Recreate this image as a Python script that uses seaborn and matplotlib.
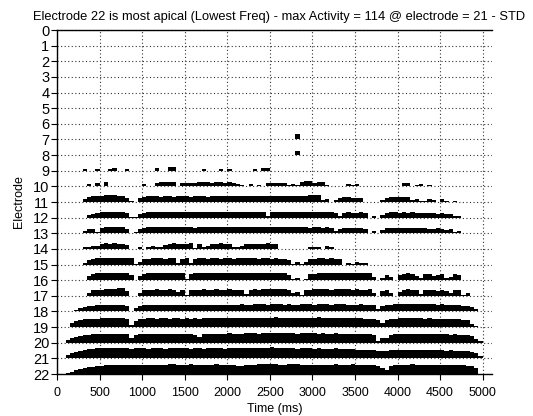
import numpy as np
import pandas as pd
import matplotlib
matplotlib.use("Agg")
import matplotlib.pyplot as plt
import seaborn as sns

# Activity per electrode in 50 ms bins, 0-5000 ms
BIN_MS = 50
N_BINS = 100

# Sparse electrodes: {bin start time (ms): activity}
e7 = {2800: 55}
e8 = {2800: 45}
e9 = {300: 15, 450: 20, 600: 20, 650: 25, 800: 15, 1150: 25, 1300: 40, 1350: 35,
      1700: 15, 1900: 15, 2000: 15, 2300: 15, 2400: 25, 2450: 30}
e10 = {350: 20, 450: 30, 550: 40, 1000: 20, 1150: 30, 1200: 45, 1250: 40, 1300: 45,
       1350: 40, 1450: 30, 1500: 35, 1550: 30, 1600: 35, 1650: 40, 1700: 45, 1750: 40,
       1800: 35, 1850: 45, 1900: 40, 1950: 30, 2000: 45, 2050: 35, 2100: 25, 2150: 15,
       2250: 20, 2350: 15, 2450: 35, 2500: 30, 2550: 35, 2600: 30, 2650: 35, 2700: 15,
       2750: 20, 2800: 15, 2850: 45, 2900: 55, 2950: 50, 3000: 30, 3050: 45, 3100: 45,
       3150: 15, 3400: 20, 3450: 15, 3500: 20, 4050: 30, 4100: 30, 4200: 15, 4250: 20,
       4350: 15}

# Dense electrodes: one value per 50 ms bin
e11 = [0, 0, 0, 0, 0, 0, 35, 55, 60, 62,
       62, 70, 75, 72, 65, 62, 40, 15, 0, 40,
       55, 58, 60, 58, 55, 60, 58, 55, 58, 60,
       58, 55, 60, 62, 58, 55, 60, 58, 62, 60,
       58, 60, 62, 58, 60, 62, 60, 58, 62, 60,
       62, 60, 58, 60, 62, 65, 60, 62, 58, 70,
       72, 70, 25, 30, 5, 25, 45, 50, 48, 45,
       45, 40, 0, 0, 0, 0, 20, 45, 50, 48,
       50, 52, 48, 20, 35, 10, 15, 30, 20, 0,
       30, 10, 0, 15, 0, 0, 0, 0, 0, 0]
e12 = [0, 0, 0, 0, 0, 0, 0, 25, 40, 45,
       55, 60, 58, 62, 60, 55, 45, 10, 5, 35,
       50, 55, 58, 55, 60, 58, 55, 60, 58, 55,
       58, 60, 55, 58, 60, 62, 58, 55, 60, 58,
       55, 58, 60, 62, 58, 55, 60, 58, 55, 20,
       55, 58, 60, 62, 60, 58, 55, 60, 62, 60,
       58, 60, 55, 58, 55, 50, 20, 50, 55, 52,
       50, 55, 45, 0, 20, 0, 30, 50, 55, 55,
       52, 55, 50, 55, 52, 50, 48, 52, 45, 40,
       45, 40, 38, 15, 20, 0, 0, 0, 0, 0]
e13 = [0, 0, 0, 0, 0, 0, 25, 45, 45, 15,
       55, 60, 62, 65, 60, 62, 40, 0, 15, 45,
       55, 60, 62, 65, 62, 60, 62, 65, 62, 60,
       62, 60, 58, 62, 65, 62, 60, 62, 65, 62,
       60, 62, 65, 62, 60, 65, 62, 60, 62, 65,
       62, 60, 65, 62, 60, 62, 65, 62, 60, 58,
       60, 62, 58, 60, 55, 25, 45, 55, 52, 55,
       50, 55, 45, 0, 25, 0, 30, 50, 55, 52,
       55, 58, 55, 52, 55, 50, 52, 48, 45, 50,
       45, 35, 40, 15, 25, 0, 0, 0, 0, 0]
e14 = [0, 0, 0, 0, 0, 0, 15, 20, 30, 30,
       50, 55, 50, 55, 52, 50, 40, 0, 0, 20,
       0, 15, 30, 20, 15, 35, 50, 55, 50, 48,
       50, 55, 10, 45, 15, 30, 50, 52, 55, 50,
       52, 20, 15, 30, 45, 50, 48, 52, 50, 55,
       50, 45, 0, 0, 0, 0, 0, 0, 0, 20,
       20, 15, 0, 25, 20, 0, 0, 0, 0, 0,
       0, 0, 0, 0, 0, 0, 0, 0, 0, 0,
       0, 0, 0, 0, 0, 0, 0, 0, 0, 0,
       0, 0, 0, 0, 0, 0, 0, 0, 0, 0]
e15 = [0, 0, 0, 0, 0, 0, 15, 50, 60, 65,
       62, 65, 68, 65, 62, 65, 68, 62, 10, 25,
       55, 60, 65, 62, 65, 60, 62, 65, 20, 60,
       62, 15, 60, 65, 62, 60, 65, 62, 60, 65,
       62, 60, 65, 62, 68, 65, 62, 60, 65, 62,
       60, 62, 58, 55, 45, 10, 25, 5, 30, 55,
       60, 62, 65, 60, 62, 58, 55, 0, 20, 10,
       30, 20, 15, 0, 0, 0, 0, 0, 0, 0,
       0, 0, 0, 0, 0, 0, 0, 0, 0, 0,
       0, 0, 0, 0, 0, 0, 0, 0, 0, 0]
e16 = [0, 0, 0, 0, 0, 0, 0, 40, 65, 70,
       72, 70, 75, 72, 70, 75, 72, 55, 5, 45,
       65, 70, 72, 70, 68, 72, 70, 75, 72, 70,
       15, 65, 70, 72, 70, 68, 72, 70, 68, 70,
       72, 70, 68, 72, 70, 68, 70, 72, 75, 72,
       70, 72, 68, 70, 55, 10, 25, 5, 10, 60,
       65, 70, 72, 68, 70, 72, 70, 68, 72, 70,
       68, 70, 72, 68, 30, 0, 20, 55, 30, 0,
       50, 65, 70, 65, 45, 25, 60, 65, 45, 55,
       60, 25, 30, 60, 50, 0, 0, 0, 0, 0]
e17 = [0, 0, 0, 0, 0, 0, 0, 30, 55, 60,
       62, 65, 65, 70, 80, 75, 50, 0, 0, 30,
       55, 60, 62, 65, 60, 62, 65, 60, 40, 55,
       10, 55, 60, 62, 65, 60, 62, 65, 60, 62,
       65, 62, 60, 55, 15, 60, 65, 62, 65, 68,
       65, 70, 68, 65, 60, 25, 40, 5, 55, 62,
       65, 68, 70, 65, 62, 65, 68, 70, 65, 62,
       65, 62, 60, 65, 30, 0, 50, 55, 25, 0,
       40, 60, 65, 62, 60, 20, 55, 60, 62, 50,
       55, 50, 30, 60, 55, 10, 30, 0, 0, 0]
e18 = [0, 0, 0, 0, 15, 30, 45, 55, 60, 62,
       65, 68, 65, 65, 70, 68, 60, 5, 35, 60,
       62, 65, 68, 65, 62, 65, 70, 68, 65, 62,
       65, 68, 65, 62, 65, 68, 70, 65, 68, 70,
       68, 65, 70, 72, 70, 68, 72, 75, 72, 70,
       72, 75, 72, 70, 72, 68, 70, 72, 75, 72,
       70, 72, 75, 72, 70, 72, 75, 72, 70, 68,
       70, 72, 68, 65, 62, 20, 55, 65, 70, 72,
       72, 75, 72, 75, 78, 75, 72, 75, 72, 70,
       72, 70, 68, 65, 62, 60, 55, 45, 20, 0]
e19 = [0, 0, 0, 40, 60, 72, 78, 82, 85, 85,
       88, 90, 88, 88, 90, 88, 80, 25, 65, 80,
       85, 88, 88, 85, 90, 88, 85, 88, 90, 85,
       88, 85, 88, 85, 90, 92, 88, 90, 92, 90,
       90, 92, 95, 92, 90, 92, 95, 95, 92, 95,
       95, 98, 95, 92, 95, 92, 90, 92, 95, 95,
       95, 98, 95, 92, 90, 92, 95, 92, 90, 88,
       90, 88, 85, 85, 80, 75, 40, 70, 80, 85,
       88, 90, 88, 90, 92, 88, 85, 88, 85, 82,
       85, 82, 80, 82, 78, 75, 70, 30, 15, 0]
e20 = [0, 0, 25, 45, 60, 70, 78, 82, 85, 88,
       90, 92, 90, 88, 90, 92, 85, 45, 75, 85,
       88, 90, 92, 90, 88, 90, 92, 90, 88, 90,
       88, 85, 75, 60, 85, 90, 92, 90, 88, 92,
       95, 92, 90, 92, 95, 98, 95, 92, 95, 98,
       100, 98, 95, 95, 98, 95, 92, 95, 98, 95,
       95, 92, 95, 90, 92, 95, 90, 88, 90, 92,
       90, 88, 85, 85, 82, 15, 45, 50, 80, 85,
       85, 88, 90, 90, 92, 90, 88, 90, 88, 85,
       85, 85, 82, 85, 80, 78, 75, 70, 40, 15]
e21 = [0, 0, 30, 50, 65, 75, 85, 90, 95, 100,
       100, 105, 100, 100, 105, 100, 100, 98, 100, 102,
       100, 98, 100, 105, 100, 98, 100, 102, 105, 100,
       100, 98, 102, 100, 98, 100, 105, 102, 100, 98,
       100, 102, 100, 105, 108, 105, 102, 105, 110, 108,
       114, 110, 105, 102, 100, 100, 98, 100, 102, 100,
       98, 100, 98, 95, 98, 100, 98, 95, 95, 98,
       88, 85, 88, 82, 80, 78, 75, 78, 80, 82,
       85, 82, 85, 88, 85, 82, 80, 82, 85, 82,
       80, 78, 80, 78, 75, 72, 70, 65, 50, 25]
e22 = [0, 0, 10, 25, 40, 50, 60, 70, 75, 80,
       85, 88, 90, 92, 92, 95, 95, 95, 92, 95,
       95, 95, 95, 92, 95, 95, 98, 98, 95, 95,
       95, 98, 95, 95, 92, 95, 95, 98, 95, 95,
       95, 92, 85, 80, 90, 95, 95, 98, 100, 100,
       100, 98, 95, 95, 98, 100, 98, 95, 95, 92,
       95, 95, 92, 92, 95, 98, 95, 95, 95, 98,
       95, 95, 92, 90, 88, 85, 60, 40, 80, 90,
       92, 95, 95, 98, 95, 95, 92, 95, 92, 95,
       92, 92, 90, 92, 90, 88, 85, 80, 60, 0]

electrodes = list(range(23))
x_ticks = list(range(0, 5001, 500))


def to_bins(row):
    arr = np.zeros(N_BINS)
    if isinstance(row, dict):
        for t, v in row.items():
            arr[t // BIN_MS] = v
    else:
        arr[:] = row
    return arr


rows = {7: e7, 8: e8, 9: e9, 10: e10, 11: e11, 12: e12, 13: e13, 14: e14,
        15: e15, 16: e16, 17: e17, 18: e18, 19: e19, 20: e20, 21: e21, 22: e22}

records = []
for elec, row in rows.items():
    arr = to_bins(row)
    for i, v in enumerate(arr):
        records.append((elec, i * BIN_MS, v))
df = pd.DataFrame(records, columns=["electrode", "time", "activity"])

max_act = df["activity"].max()
max_elec = int(df.loc[df["activity"].idxmax(), "electrode"])
ROW_SCALE = 0.72 / max_act  # tallest burst fills ~3/4 of a row

sns.set_theme(style="white")
plt.rcParams["font.family"] = ["Liberation Sans", "DejaVu Sans"]

fig = plt.figure(figsize=(5.33, 4.16), dpi=100)
ax = fig.add_axes([57 / 533, 1 - 374 / 416, (492 - 57) / 533, (374 - 30) / 416])

edges = np.arange(0, N_BINS * BIN_MS + 1, BIN_MS)
for elec, grp in df.groupby("electrode"):
    h = grp.sort_values("time")["activity"].to_numpy() * ROW_SCALE
    h = np.append(h, 0)
    ax.fill_between(edges, elec, elec - h, step="post", color="black",
                    linewidth=0, zorder=3)

ax.set_xlim(0, 5110)
ax.set_ylim(22, 0)
ax.set_yticks(electrodes)
ax.set_xticks(x_ticks)
ax.grid(True, color="#333333", linestyle=(0, (1, 2.2)), linewidth=0.8)
ax.set_axisbelow(True)

sns.despine(ax=ax, top=False, right=True)
for side in ("left", "bottom", "top"):
    ax.spines[side].set_color("black")
    ax.spines[side].set_linewidth(1.0)

ax.tick_params(axis="both", direction="out", length=4, width=0.8,
               color="black", labelcolor="black")
ax.tick_params(axis="x", bottom=True, labelsize=9, pad=5)
ax.tick_params(axis="y", left=True, labelsize=10.5, pad=1.5)

ax.set_xlabel("Time (ms)", fontsize=9, labelpad=3, color="black")
ax.set_ylabel("Electrode", fontsize=9, labelpad=6, color="black")
ax.set_title(f"Electrode 22 is most apical (Lowest Freq) - max Activity = {max_act:.0f} "
             f"@ electrode = {max_elec} - STD", fontsize=9.3, pad=7, color="black",
             x=0.51)

fig.savefig("out.png", dpi=100)
